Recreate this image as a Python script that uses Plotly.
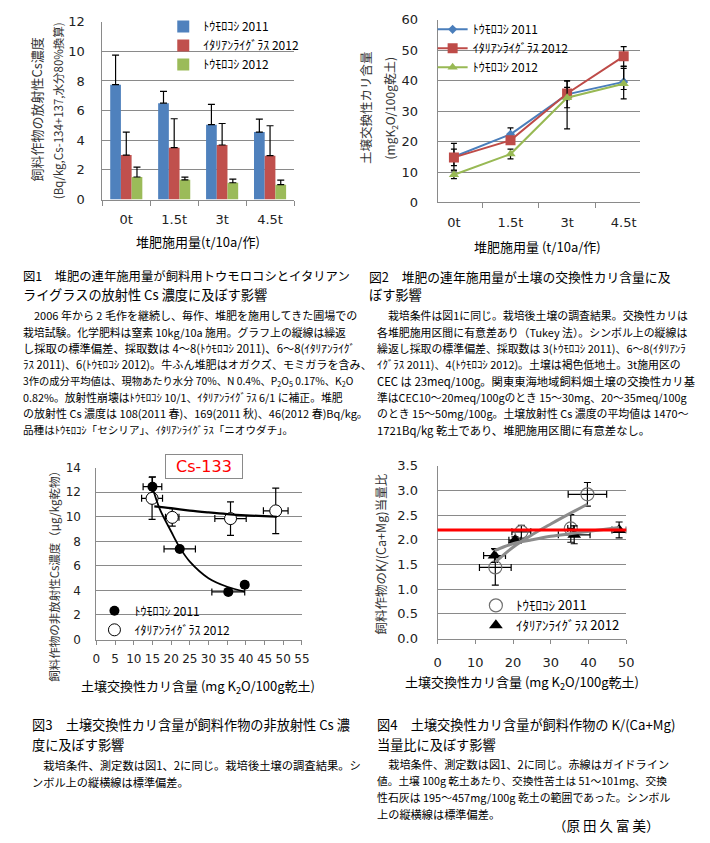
import plotly.graph_objects as go

W, H = 710, 843


def px(x):
    return x / W


def py(y):
    return 1 - y / H


JP = "Noto Sans CJK JP"
NUM = "DejaVu Sans, Noto Sans CJK JP"
GRID = "#8a8a8a"

# ---------------- Fig 1 data (bar) ----------------
dose_cats = ["0t", "1.5t", "3t", "4.5t"]
series_names = ["ﾄｳﾓﾛｺｼ 2011", "ｲﾀﾘｱﾝﾗｲｸﾞﾗｽ 2012", "ﾄｳﾓﾛｺｼ 2012"]
cs_corn2011 = [7.75, 6.5, 5.05, 4.55]
cs_corn2011_sd = [2.0, 0.8, 1.37, 0.87]
cs_rye2012 = [3.0, 3.5, 3.68, 2.96]
cs_rye2012_sd = [1.55, 1.95, 1.45, 2.02]
cs_corn2012 = [1.52, 1.33, 1.13, 1.0]
cs_corn2012_sd = [0.67, 0.18, 0.25, 0.31]

# ---------------- Fig 2 data (lines) ----------------
k_corn2011 = [15.0, 22.4, 35.5, 39.6]
k_corn2011_up = [4.4, 2.1, 4.4, 5.0]
k_corn2011_dn = [4.4, 2.1, 4.4, 2.5]
k_rye2012 = [14.8, 20.4, 35.8, 48.0]
k_rye2012_sd = [2.7, 1.0, 2.0, 3.2]
k_corn2012 = [9.1, 15.9, 34.4, 39.0]
k_corn2012_up = [1.3, 1.6, 5.5, 5.0]
k_corn2012_dn = [1.3, 1.6, 10.2, 5.0]

# ---------------- Fig 3 data (scatter) ----------------
f3_corn_x = [15.0, 22.3, 35.3, 39.7]
f3_corn_xsd = [2.5, 4.2, 4.4, 0.8]
f3_corn_y = [12.45, 7.38, 3.88, 4.47]
f3_corn_ysd = [0.8, 0.2, 0.15, 0.2]
f3_rye_x = [14.9, 20.3, 35.9, 48.0]
f3_rye_xsd = [2.8, 1.8, 4.2, 3.3]
f3_rye_y = [11.5, 9.95, 9.85, 10.48]
f3_rye_ysd = [1.72, 0.72, 1.36, 1.86]
f3_corn_trend_x = [15.2, 17, 20, 22.4, 25, 30, 35, 39.7]
f3_corn_trend_y = [12.2, 10.6, 8.8, 7.45, 6.35, 5.0, 4.3, 3.9]
f3_rye_trend_x = [15.5, 20, 25, 30, 35, 40, 48.3]
f3_rye_trend_y = [10.85, 10.7, 10.5, 10.35, 10.22, 10.12, 10.0]

# ---------------- Fig 4 data (scatter) ----------------
f4_corn_x = [15.3, 22.2, 35.3, 39.7]
f4_corn_xsd = [4.2, 2.5, 0.8, 5.1]
f4_corn_y = [1.44, 2.16, 2.23, 2.92]
f4_corn_ysd = [0.36, 0.13, 0.28, 0.24]
f4_rye_x = [15.1, 20.5, 36.2, 48.1]
f4_rye_xsd = [2.9, 1.6, 4.2, 1.9]
f4_rye_y = [1.68, 1.99, 2.1, 2.2]
f4_rye_ysd = [0.14, 0.07, 0.18, 0.16]
f4_corn_trend_x = [15.3, 20, 25, 30, 35, 39.7]
f4_corn_trend_y = [1.55, 1.85, 2.1, 2.32, 2.53, 2.72]
f4_rye_trend_x = [15.1, 20, 25, 30, 36, 48.1]
f4_rye_trend_y = [1.78, 1.92, 2.0, 2.07, 2.13, 2.25]
guideline = 2.2

fig = go.Figure()

# ---- Fig 1 bars
bar_colors = ["#4f81bd", "#c0504d", "#9bbb59"]
for name, vals, sd, col in zip(series_names,
                               [cs_corn2011, cs_rye2012, cs_corn2012],
                               [cs_corn2011_sd, cs_rye2012_sd, cs_corn2012_sd],
                               bar_colors):
    fig.add_trace(go.Bar(
        x=dose_cats, y=vals, name=name, marker=dict(color=col, line=dict(width=0)),
        error_y=dict(type="data", symmetric=False, array=sd, arrayminus=[0] * len(sd),
                     color="black", thickness=1.2, width=3.5),
        xaxis="x", yaxis="y", legend="legend"))

# ---- Fig 2 lines
line_specs = [
    (series_names[0], k_corn2011, k_corn2011_up, k_corn2011_dn, "#4a7ebb", "diamond", 7),
    (series_names[1], k_rye2012, k_rye2012_sd, k_rye2012_sd, "#be4b48", "square", 10),
    (series_names[2], k_corn2012, k_corn2012_up, k_corn2012_dn, "#98b954", "triangle-up", 9),
]
for name, vals, up, dn, col, sym, sz in line_specs:
    fig.add_trace(go.Scatter(
        x=dose_cats, y=vals, name=name, mode="lines+markers",
        line=dict(color=col, width=2), marker=dict(symbol=sym, size=sz, color=col),
        error_y=dict(type="data", symmetric=False, array=up, arrayminus=dn,
                     color="black", thickness=1.2, width=3),
        xaxis="x2", yaxis="y2", legend="legend2"))

# ---- Fig 3
fig.add_trace(go.Scatter(
    x=f3_corn_x, y=f3_corn_y, name=series_names[0], mode="markers",
    marker=dict(symbol="circle", size=10, color="black"),
    error_x=dict(type="data", array=f3_corn_xsd, color="black", thickness=1.2, width=3.5),
    error_y=dict(type="data", array=f3_corn_ysd, color="black", thickness=1.2, width=3.5),
    xaxis="x3", yaxis="y3", legend="legend3"))
fig.add_trace(go.Scatter(
    x=f3_rye_x, y=f3_rye_y, name=series_names[1], mode="markers",
    marker=dict(symbol="circle", size=12, color="white", line=dict(color="black", width=1)),
    error_x=dict(type="data", array=f3_rye_xsd, color="black", thickness=1.2, width=3.5),
    error_y=dict(type="data", array=f3_rye_ysd, color="black", thickness=1.2, width=3.5),
    xaxis="x3", yaxis="y3", legend="legend3"))
fig.add_trace(go.Scatter(
    x=f3_corn_trend_x, y=f3_corn_trend_y, mode="lines", showlegend=False,
    line=dict(color="black", width=1.8, shape="spline"), xaxis="x3", yaxis="y3"))
fig.add_trace(go.Scatter(
    x=f3_rye_trend_x, y=f3_rye_trend_y, mode="lines", showlegend=False,
    line=dict(color="black", width=2.2, shape="spline"), xaxis="x3", yaxis="y3"))

# ---- Fig 4
fig.add_trace(go.Scatter(
    x=f4_corn_x, y=f4_corn_y, name=series_names[0], mode="markers",
    marker=dict(symbol="circle-open", size=13, color="#707070", line=dict(width=1.2)),
    error_x=dict(type="data", array=f4_corn_xsd, color="black", thickness=1.2, width=3.5),
    error_y=dict(type="data", array=f4_corn_ysd, color="black", thickness=1.2, width=3.5),
    xaxis="x4", yaxis="y4", legend="legend4"))
fig.add_trace(go.Scatter(
    x=f4_rye_x, y=f4_rye_y, name=series_names[1], mode="markers",
    marker=dict(symbol="triangle-up", size=12, color="black"),
    error_x=dict(type="data", array=f4_rye_xsd, color="black", thickness=1.2, width=3.5),
    error_y=dict(type="data", array=f4_rye_ysd, color="black", thickness=1.2, width=3.5),
    xaxis="x4", yaxis="y4", legend="legend4"))
fig.add_trace(go.Scatter(
    x=f4_corn_trend_x, y=f4_corn_trend_y, mode="lines", showlegend=False,
    line=dict(color="#8c8c8c", width=3, shape="spline"), xaxis="x4", yaxis="y4"))
fig.add_trace(go.Scatter(
    x=f4_rye_trend_x, y=f4_rye_trend_y, mode="lines", showlegend=False,
    line=dict(color="#8c8c8c", width=3, shape="spline"), xaxis="x4", yaxis="y4"))

tickfont = dict(family=NUM, size=13, color="#222")
common_y = dict(showgrid=True, gridcolor=GRID, gridwidth=1, showline=True, linecolor=GRID,
                zeroline=False, ticks="", tickfont=tickfont)
common_x = dict(showgrid=False, showline=True, linecolor=GRID, zeroline=False,
                ticks="outside", ticklen=5, tickcolor=GRID, tickfont=tickfont)

CLEAR = "rgba(0,0,0,0)"
fig.update_layout(
    width=W, height=843, margin=dict(l=0, r=0, t=0, b=0),
    paper_bgcolor="white", plot_bgcolor="white",
    barmode="group", bargap=0.33, bargroupgap=0,
    font=dict(family=JP, color="black"),
    xaxis=dict(domain=[px(100), px(295)], anchor="y", type="category",
               tickson="boundaries", ticklabelstandoff=8, **common_x),
    yaxis=dict(domain=[py(196), py(15)], anchor="x", range=[0, 12], dtick=2,
               ticklabelstandoff=14, **common_y),
    xaxis2=dict(domain=[px(441), px(647)], anchor="y2", type="category",
                tickson="boundaries", ticklabelstandoff=8, **common_x),
    yaxis2=dict(domain=[py(199), py(13)], anchor="x2", range=[0, 60], dtick=10,
                ticklabelstandoff=16, **common_y),
    xaxis3=dict(domain=[px(94), px(303)], anchor="y3", range=[0, 55], dtick=5,
                ticklabelstandoff=4, **{**common_x, "ticklen": 4,
                                         "tickfont": dict(family=NUM, size=12, color="#222")}),
    yaxis3=dict(domain=[py(644), py(469)], anchor="x3", range=[0, 14], dtick=2,
                ticklabelstandoff=12, **{**common_y,
                                         "tickfont": dict(family=NUM, size=12, color="#222")}),
    xaxis4=dict(domain=[px(441), px(633)], anchor="y4", range=[0, 50], dtick=10,
                ticklabelstandoff=8, **{**common_x, "ticklen": 4}),
    yaxis4=dict(domain=[py(643), py(467)], anchor="x4", range=[0, 3.5], dtick=0.5,
                tickformat=".1f", ticklabelstandoff=16, **common_y),
    legend=dict(x=px(162), y=py(5), xanchor="left", yanchor="top", bgcolor=CLEAR,
                font=dict(family=JP, size=12), itemwidth=30, tracegroupgap=0),
    legend2=dict(x=px(436), y=py(8), xanchor="left", yanchor="top", bgcolor=CLEAR,
                 font=dict(family=JP, size=12), itemwidth=30, tracegroupgap=0),
    legend3=dict(x=px(92), y=py(600), xanchor="left", yanchor="top", bgcolor=CLEAR,
                 font=dict(family=JP, size=12), itemwidth=30, tracegroupgap=0),
    legend4=dict(x=px(480), y=py(594), xanchor="left", yanchor="top", bgcolor=CLEAR,
                 font=dict(family=JP, size=13), itemwidth=30, tracegroupgap=0),
    showlegend=True,
)

# white boxes behind the legends (cover gridlines, stay under the marks)
for (x0, y0, x1, y1) in [(175, 18, 295, 70), (450, 15, 575, 68),
                         (102, 602, 227, 638), (488, 597, 633, 641)]:
    fig.add_shape(type="rect", xref="paper", yref="paper", x0=px(x0), x1=px(x1),
                  y0=py(y1), y1=py(y0), fillcolor="white", line=dict(width=0),
                  layer="between")

fig.add_shape(type="line", xref="x4 domain", yref="y4", x0=0, x1=1,
              y0=guideline, y1=guideline, line=dict(color="red", width=3))

ann = []


def text(x, y, s, size=11.5, anchor="left", angle=0, color="black", family=JP):
    ann.append(dict(x=px(x), y=py(y), xref="paper", yref="paper", text=s, showarrow=False,
                    xanchor=anchor, yanchor="middle", textangle=angle,
                    font=dict(family=family, size=size, color=color)))


# axis titles
text(197, 239, "堆肥施用量(t/10a/作)", 13, "center")
text(33, 104, "飼料作物の放射性Cs濃度", 13, "center", -90, "#333")
text(55, 106, "(Bq/kg,Cs-134+137,水分80%換算)", 11.5, "center", -90, "#333")
text(543, 244, "堆肥施用量 (t/10a/作)", 13, "center")
text(367, 102, "土壌交換性カリ含量", 12.5, "center", -90, "#333")
text(393, 103, "(mgK<sub>2</sub>O/100g乾土)", 12, "center", -90, "#333")
text(197, 692, "土壌交換性カリ含量 (mg K<sub>2</sub>O/100g乾土)", 13, "center")
text(51, 577, "飼料作物の非放射性Cs濃度（μg/kg乾物）", 11.5, "center", -90, "#333")
text(527, 688, "土壌交換性カリ含量 (mg K<sub>2</sub>O/100g乾土)", 13, "center")
text(383, 557, "飼料作物のK/(Ca+Mg)当量比", 12.5, "center", -90, "#333")

ann.append(dict(x=px(203), y=py(467.5), xref="paper", yref="paper", text="Cs-133",
                showarrow=False, xanchor="center", yanchor="middle", width=74, height=21,
                bgcolor="white", bordercolor="#8a8a8a", borderwidth=1,
                font=dict(family="DejaVu Sans", size=16, color="red")))

# captions: (text, font size) per line
cap1 = [("図1　堆肥の連年施用量が飼料用トウモロコシとイタリアン", 12.35),
        ("ライグラスの放射性 Cs 濃度に及ぼす影響", 13.2)]
body1 = [("　2006 年から 2 毛作を継続し、毎作、堆肥を施用してきた圃場での", 11.0),
         ("栽培試験。化学肥料は窒素 10kg/10a 施用。グラフ上の縦線は繰返", 10.85),
         ("し採取の標準偏差、採取数は 4～8(ﾄｳﾓﾛｺｼ 2011)、6～8(ｲﾀﾘｱﾝﾗｲｸﾞ", 11.3),
         ("ﾗｽ 2011)、6(ﾄｳﾓﾛｺｼ 2012)。牛ふん堆肥はオガクズ、モミガラを含み、", 11.1),
         ("3作の成分平均値は、現物あたり水分 70%、N 0.4%、P<sub>2</sub>O<sub>5</sub> 0.17%、K<sub>2</sub>O", 10.3),
         ("0.82%。放射性崩壊はﾄｳﾓﾛｺｼ 10/1、ｲﾀﾘｱﾝﾗｲｸﾞﾗｽ 6/1 に補正。堆肥", 10.8),
         ("の放射性 Cs 濃度は 108(2011 春)、169(2011 秋)、46(2012 春)Bq/kg。", 11.0),
         ("品種はﾄｳﾓﾛｺｼ「セシリア」、ｲﾀﾘｱﾝﾗｲｸﾞﾗｽ「ニオウダチ」。", 10.6)]
cap2 = [("図2　堆肥の連年施用量が土壌の交換性カリ含量に及", 12.8),
        ("ぼす影響", 13.2)]
body2 = [("　栽培条件は図1に同じ。栽培後土壌の調査結果。交換性カリは", 10.9),
         ("各堆肥施用区間に有意差あり（Tukey 法）。シンボル上の縦線は", 10.9),
         ("繰返し採取の標準偏差、採取数は 3(ﾄｳﾓﾛｺｼ 2011)、6～8(ｲﾀﾘｱﾝﾗ", 10.9),
         ("ｲｸﾞﾗｽ 2011)、4(ﾄｳﾓﾛｺｼ 2012)。土壌は褐色低地土。3t施用区の", 10.9),
         ("CEC は 23meq/100g。関東東海地域飼料畑土壌の交換性カリ基", 11.3),
         ("準はCEC10～20meq/100gのとき 15～30mg、20～35meq/100g", 10.8),
         ("のとき 15～50mg/100g。土壌放射性 Cs 濃度の平均値は 1470～", 10.9),
         ("1721Bq/kg 乾土であり、堆肥施用区間に有意差なし。", 11.3)]
cap3 = [("図3　土壌交換性カリ含量が飼料作物の非放射性 Cs 濃", 13.2),
        ("度に及ぼす影響", 13.2)]
body3 = [("　栽培条件、測定数は図1、2に同じ。栽培後土壌の調査結果。シ", 11.3),
         ("ンボル上の縦横線は標準偏差。", 11.2)]
cap4 = [("図4　土壌交換性カリ含量が飼料作物の K/(Ca+Mg)", 13.2),
        ("当量比に及ぼす影響", 13.2)]
body4 = [("　栽培条件、測定数は図1、2に同じ。赤線はガイドライン", 11.2),
         ("値。土壌 100g 乾土あたり、交換性苦土は 51～101mg、交換", 10.7),
         ("性石灰は 195～457mg/100g 乾土の範囲であった。シンボル", 10.9),
         ("上の縦横線は標準偏差。", 11.2)]

for i, (s, fs) in enumerate(cap1):
    text(17, 274 + 19 * i, s, fs)
for i, (s, fs) in enumerate(body1):
    text(17, 314 + 16.6 * i, s, fs)
for i, (s, fs) in enumerate(cap2):
    text(369, 274 + 19 * i, s, fs)
for i, (s, fs) in enumerate(body2):
    text(377, 314 + 16.6 * i, s, fs)
for i, (s, fs) in enumerate(cap3):
    text(26, 731 + 20 * i, s, fs)
for i, (s, fs) in enumerate(body3):
    text(26, 772 + 16.6 * i, s, fs)
for i, (s, fs) in enumerate(cap4):
    text(377, 731 + 20 * i, s, fs)
for i, (s, fs) in enumerate(body4):
    text(377, 771 + 16.8 * i, s, fs)
text(556, 833, "（原 田 久 富 美）", 13.5)

fig.update_layout(annotations=ann)

fig.write_html("out.html", config={"displayModeBar": False},
               post_script="document.body.style.margin='0';")
